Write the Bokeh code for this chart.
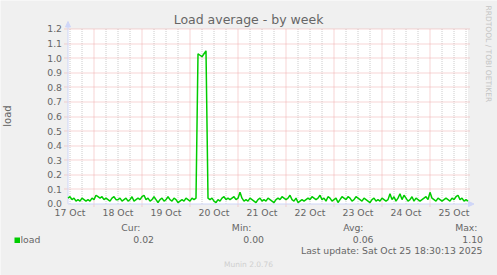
import math
from bokeh.plotting import figure
from bokeh.core.properties import value
from bokeh.embed import file_html
from bokeh.resources import INLINE

# ---------------- data ----------------
start_hour = 11  # hours after 17 Oct 00:00 (first sample)
load = [
    0.04, 0.05, 0.03, 0.04, 0.02, 0.03, 0.02, 0.04, 0.03, 0.02,
    0.03, 0.02, 0.04, 0.03, 0.06, 0.05, 0.04, 0.05, 0.03, 0.04,
    0.03, 0.02, 0.04, 0.05, 0.03, 0.03, 0.04, 0.02, 0.03, 0.04,
    0.02, 0.03, 0.05, 0.02, 0.03, 0.04, 0.03, 0.05, 0.06, 0.03,
    0.04, 0.02, 0.03, 0.05, 0.03, 0.01, 0.03, 0.04, 0.02, 0.03,
    0.05, 0.03, 0.02, 0.04, 0.03, 0.01, 0.02, 0.03, 0.02, 0.04,
    0.03, 0.02, 0.04, 0.03, 0.04, 1.03, 1.02, 1.01, 1.03, 1.05,
    0.04, 0.03, 0.04, 0.02, 0.01, 0.03, 0.02, 0.04, 0.05, 0.03,
    0.04, 0.03, 0.04, 0.05, 0.03, 0.04, 0.08, 0.04, 0.02, 0.03,
    0.02, 0.04, 0.03, 0.02, 0.01, 0.03, 0.04, 0.02, 0.03, 0.02,
    0.04, 0.03, 0.02, 0.01, 0.03, 0.04, 0.03, 0.05, 0.04, 0.03,
    0.04, 0.06, 0.03, 0.02, 0.04, 0.01, 0.02, 0.03, 0.02, 0.03,
    0.04, 0.03, 0.05, 0.04, 0.03, 0.04, 0.06, 0.03, 0.04, 0.02,
    0.05, 0.04, 0.02, 0.03, 0.04, 0.01, 0.03, 0.05, 0.04, 0.03,
    0.05, 0.04, 0.02, 0.03, 0.05, 0.04, 0.03, 0.02, 0.04, 0.03,
    0.02, 0.01, 0.03, 0.04, 0.02, 0.03, 0.02, 0.04, 0.03, 0.02,
    0.03, 0.07, 0.03, 0.05, 0.02, 0.04, 0.07, 0.03, 0.06, 0.04,
    0.02, 0.03, 0.05, 0.02, 0.04, 0.03, 0.02, 0.03, 0.04, 0.05,
    0.03, 0.08, 0.04, 0.03, 0.02, 0.04, 0.03, 0.02, 0.03, 0.04,
    0.03, 0.02, 0.04, 0.03, 0.05, 0.06, 0.03, 0.04, 0.02, 0.03,
    0.02,
]
hours = [start_hour + i for i in range(len(load))]

day_labels = ["17 Oct", "18 Oct", "19 Oct", "20 Oct", "21 Oct",
              "22 Oct", "23 Oct", "24 Oct", "25 Oct"]
label_hours = [12 + 24 * i for i in range(len(day_labels))]      # labels centred at noon
major_grid_hours = [24 * i for i in range(1, 9)]                  # midnights
minor_grid_hours = [h for h in range(12, 211, 6) if h % 24 != 0]  # every 6 h
y_ticks = [round(0.1 * i, 1) for i in range(13)]
y_tick_labels = ["%.1f" % v for v in y_ticks]
y_top = 1.2

y_axis_title = "load"
legend_name = "load"
stat_headers = ["Cur:", "Min:", "Avg:", "Max:"]
stat_values = ["0.02", "0.00", "0.06", "1.10"]
last_update = "Last update: Sat Oct 25 18:30:13 2025"
title_text = "Load average - by week"
version_text = "Munin 2.0.76"
watermark = "RRDTOOL / TOBI OETIKER"

# ---------------- geometry helpers (canvas pixels -> data) ----------------
W, H = 497, 275
PX_PER_HOUR = 2.0
PX_PER_UNIT = 175 / 1.2
X0_PX, Y0_PX = 67.5, 203.5
TEXT_LIFT = 0.38  # em fraction: compensates renderer baseline placement


def X(px):
    return hours[0] + (px - X0_PX) / PX_PER_HOUR


def Y(py):
    return (Y0_PX - py) / PX_PER_UNIT


def snap_y(v):
    py = Y0_PX - v * PX_PER_UNIT
    return Y(math.floor(py) + 0.5)


FONT = value("DejaVu Sans")
TXT = "#666666"
AXIS_C = "#CFD6F8"
GRID_MINOR = "#cccccc"
GRID_MAJOR = "#eeaaaa"

p = figure(width=W, height=H, title=None,
           x_range=(X(0), X(W)), y_range=(Y(H), Y(0)),
           x_axis_location=None, y_axis_location=None,
           toolbar_location=None, output_backend="svg",
           min_border=0)
p.background_fill_color = "#F0F0F0"
p.border_fill_color = "#F0F0F0"
p.outline_line_color = None
p.xgrid.visible = False
p.ygrid.visible = False

# canvas
p.quad(left=hours[0], right=hours[-1], bottom=0, top=y_top,
       fill_color="white", line_color=None)

# grid
n = len(minor_grid_hours)
p.segment(x0=minor_grid_hours, y0=[0] * n, x1=minor_grid_hours, y1=[snap_y(y_top)] * n,
          line_color=GRID_MINOR, line_dash="1 1", line_width=1)
n = len(major_grid_hours)
p.segment(x0=major_grid_hours, y0=[Y(206)] * n, x1=major_grid_hours, y1=[snap_y(y_top)] * n,
          line_color=GRID_MAJOR, line_dash="1 1", line_width=1)
hy = [snap_y(v) for v in y_ticks[1:]]
p.segment(x0=[X(64)] * len(hy), y0=hy, x1=[X(470)] * len(hy), y1=hy,
          line_color=GRID_MAJOR, line_dash="1 1", line_width=1)

# axes lines + arrows
p.segment(x0=[hours[0], hours[0]], y0=[0, 0], x1=[hours[0], X(470)], y1=[Y(24), 0],
          line_color=AXIS_C, line_width=1)
p.patch([X(65), X(70), X(67.5)], [Y(26.5), Y(26.5), Y(21)],
        fill_color=AXIS_C, line_color=AXIS_C)
p.patch([X(468), X(468), X(473.5)], [Y(201), Y(206), Y(203.5)],
        fill_color=AXIS_C, line_color=AXIS_C)

# data
p.line(hours, load, line_color="#00CC00", line_width=1.5)


def txt(xs, ys, texts, align="left", size=9.3, color=TXT, angle=0.0,
        baseline="alphabetic"):
    lift = TEXT_LIFT * size if baseline == "alphabetic" else 0.0
    dx = -math.sin(angle) * lift / PX_PER_HOUR
    dy = math.cos(angle) * lift / PX_PER_UNIT
    p.text(x=[v + dx for v in xs], y=[v + dy for v in ys], text=texts,
           text_align=align, text_baseline=baseline,
           text_font=FONT, text_font_size=value("%.1fpx" % size),
           text_color=color, angle=angle)


# tick labels
txt([X(61.5)] * len(y_ticks), [v - 3.5 / PX_PER_UNIT for v in y_ticks], y_tick_labels,
    align="right")
txt(label_hours, [Y(216)] * len(label_hours), day_labels, align="center")
txt([X(11)], [Y(115.5)], [y_axis_title], align="center", size=10,
    angle=math.pi / 2)

# title
txt([X(248)], [Y(24)], [title_text], align="center", size=12.5)

# legend
header_right_px = [140, 251, 363, 477]
value_right_px = [153.5, 263.5, 373, 482.5]
txt([X(v) for v in header_right_px], [Y(231)] * 4, stat_headers, align="right")
txt([X(v) for v in value_right_px], [Y(243)] * 4, stat_values, align="right")
p.quad(left=X(14), right=X(19.5), top=Y(237), bottom=Y(242.5),
       fill_color="#00CC00", line_color=None)
txt([X(20)], [Y(243)], [legend_name])
txt([X(482)], [Y(254)], [last_update], align="right")
txt([X(248)], [Y(267)], [version_text], align="center", size=7.5, color="#cfcfcf")
txt([X(488)], [Y(5)], [watermark], align="left", size=7.5, color="#c4c4c4",
    angle=-math.pi / 2, baseline="middle")

open("out.html", "w").write(file_html(p, INLINE))
